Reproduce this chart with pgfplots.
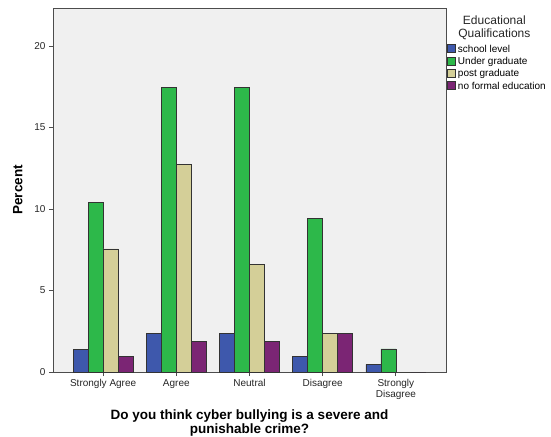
\documentclass[border=0pt]{standalone}
\usepackage{pgfplots}
\pgfplotsset{compat=1.18}
\usepackage{fontspec}
\setmainfont{Liberation Sans}
\definecolor{cblue}{HTML}{3E58AC}
\definecolor{cgreen}{HTML}{2DB84A}
\definecolor{ctan}{HTML}{D4CF98}
\definecolor{cpurple}{HTML}{7B2574}
\definecolor{cbg}{HTML}{F0F0F0}
\begin{document}
\begin{tikzpicture}
\useasboundingbox (-53pt,-64pt) rectangle (498pt,372pt);
\begin{axis}[
  scale only axis,
  width=393pt, height=364pt,
  at={(0pt,0pt)}, anchor=south west,
  xmin=-0.685, xmax=4.685,
  ymin=0, ymax=22.33,
  ybar=0pt, bar width=15pt,
  axis background/.style={fill=cbg},
  axis line style={draw=black!70, line width=0.8pt},
  xtick={0,1,2,3,4},
  xticklabels={Strongly Agree,Agree,Neutral,Disagree,{Strongly\\Disagree}},
  xticklabel style={align=center, font=\fontsize{10}{10.5}\selectfont, text=black!85},
  ytick={0,5,10,15,20},
  yticklabel style={font=\fontsize{10}{11}\selectfont, text=black!85},
  /pgf/number format/assume math mode=true,
  tick align=outside, tick pos=left,
  major tick length=4pt,
  tick style={draw=black!70, line width=0.8pt},
  ylabel={\bfseries Percent},
  ylabel style={font=\fontsize{13.5}{15}\selectfont, at={(-27pt,0.5)}},
  xlabel={\bfseries Do you think cyber bullying is a severe and\\\bfseries punishable crime?},
  xlabel style={font=\fontsize{13.5}{14.5}\selectfont, align=center, at={(0.5,0)}, yshift=-34pt},
  legend style={at={(1.003,0.905)}, anchor=north west, draw=none, fill=none,
    font=\fontsize{10}{11}\selectfont, row sep=-0.4pt, inner sep=0pt,
    legend cell align=left},
  legend image code/.code={\draw[#1, draw=black!80] (0pt,-3.5pt) rectangle (8pt,4.5pt);},
  every axis plot/.append style={draw=black!80, line width=0.6pt},
  clip=false,
]
\addplot[fill=cblue] coordinates {(0,1.41) (1,2.36) (2,2.36) (3,0.94) (4,0.47)};
\addplot[fill=cgreen] coordinates {(0,10.38) (1,17.45) (2,17.45) (3,9.43) (4,1.42)};
\addplot[fill=ctan] coordinates {(0,7.55) (1,12.74) (2,6.60) (3,2.36) (4,0)};
\addplot[fill=cpurple] coordinates {(0,0.94) (1,1.89) (2,1.89) (3,2.36) (4,0)};
\legend{school level,Under graduate,post graduate,no formal education}
\node[align=center, font=\fontsize{12}{12.5}\selectfont, text=black!85, anchor=north] at (rel axis cs:1.123,0.987) {Educational\\Qualifications};
\end{axis}
\end{tikzpicture}
\end{document}
